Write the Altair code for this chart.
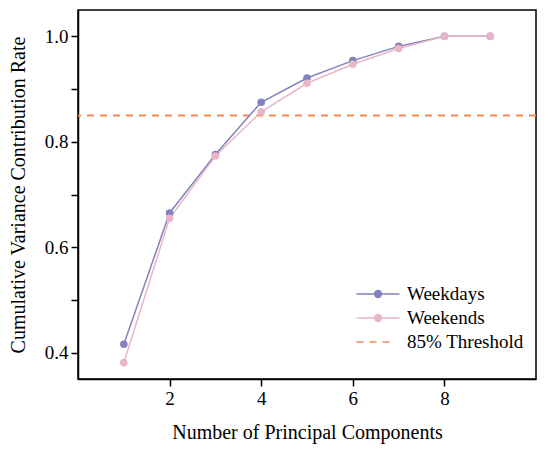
import altair as alt
import pandas as pd

components = [1, 2, 3, 4, 5, 6, 7, 8, 9]
weekdays = [0.416, 0.665, 0.776, 0.875, 0.921, 0.954, 0.981, 1.0, 1.0]
weekends = [0.381, 0.655, 0.773, 0.857, 0.911, 0.947, 0.977, 1.0, 1.0]
threshold = 0.85
series_names = ["Weekdays", "Weekends"]
series_colors = ["#8282c1", "#e8b6c6"]
threshold_name = "85% Threshold"
threshold_color = "#f5894f"

df = pd.DataFrame(
    {"n": components + components,
     "rate": weekdays + weekends,
     "series": ["Weekdays"] * len(components) + ["Weekends"] * len(components)}
)
thr = pd.DataFrame({"rate": [threshold], "series": [threshold_name]})

FONT = "Liberation Serif"


def ring(r):
    return f"M{r},0A{r},{r},0,1,1,-{r},0A{r},{r},0,1,1,{r},0"


# line with a dot drawn as concentric rings so that it looks filled
dot_path = "M-2,0H2" + ring(0.07) + ring(0.19) + ring(0.31)
dash_path = "M-2,0H1.1"

common_legend = dict(
    title=None,
    orient="none",
    labelFont=FONT,
    labelFontSize=19,
    labelColor="black",
    symbolSize=462,
    symbolStrokeWidth=1.6,
    rowPadding=2,
    labelOffset=17,
)
series_legend = alt.Legend(symbolType=dot_path, legendX=288, legendY=272, **common_legend)
thr_legend = alt.Legend(symbolType=dash_path, symbolDash=[7, 6], legendX=288, legendY=320,
                        **common_legend)

color_scale = alt.Scale(domain=series_names, range=series_colors)

x_enc = alt.X(
    "n:Q",
    title="Number of Principal Components",
    scale=alt.Scale(domain=[0, 10], nice=False),
    axis=alt.Axis(values=[2, 4, 6, 8], grid=False, format="d"),
)
y_enc = alt.Y(
    "rate:Q",
    title="Cumulative Variance Contribution Rate",
    scale=alt.Scale(domain=[0.35, 1.05], nice=False, zero=False),
    axis=alt.Axis(
        values=[0.4, 0.5, 0.6, 0.7, 0.8, 0.9, 1.0],
        labelExpr="(round(datum.value*10) % 2 == 0) ? format(datum.value, '.1f') : ''",
        grid=False,
    ),
)

lines = alt.Chart(df).mark_line(strokeWidth=1.5).encode(
    x=x_enc,
    y=y_enc,
    color=alt.Color("series:N", scale=color_scale, legend=series_legend),
    order=alt.Order("n:Q"),
)

points = alt.Chart(df).mark_circle(size=58, opacity=1).encode(
    x=x_enc,
    y=y_enc,
    color=alt.Color("series:N", scale=color_scale, legend=series_legend),
)

rule = alt.Chart(thr).mark_rule(strokeWidth=2, color=threshold_color).encode(
    y=alt.Y("rate:Q"),
    strokeDash=alt.StrokeDash(
        "series:N",
        scale=alt.Scale(domain=[threshold_name], range=[[7, 6]]),
        legend=thr_legend,
    ),
)

chart = alt.layer(rule, lines, points).properties(
    width=458, height=369, background="white",
    autosize=alt.AutoSizeParams(type="none"),
    padding={"left": 70, "top": 2, "right": 6, "bottom": 66},
).configure_view(
    stroke="black", strokeWidth=1.5
).configure_axis(
    labelFont=FONT, titleFont=FONT, labelFontSize=19, titleFontSize=20,
    titleFontWeight="normal", labelColor="black", titleColor="black",
    domainColor="black", tickColor="black", domainWidth=1.5, tickWidth=1.5,
    tickSize=7, labelPadding=3,
).configure_axisY(
    titlePadding=16
).configure_axisX(
    titlePadding=14
)

chart.save("out.html", embed_options={"renderer": "svg", "actions": False})
